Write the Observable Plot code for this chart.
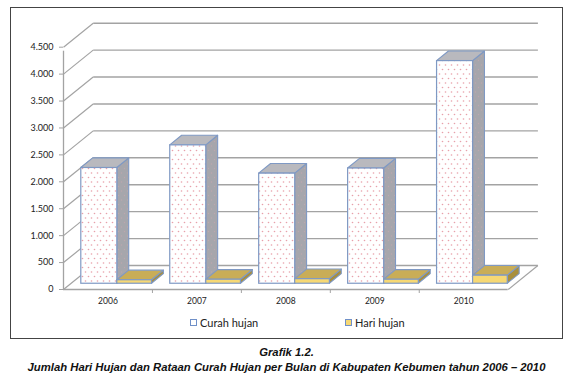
<!DOCTYPE html>
<html><head><meta charset="utf-8">
<script src="https://cdn.jsdelivr.net/npm/d3@7"></script>
<script src="https://cdn.jsdelivr.net/npm/@observablehq/plot@0.6"></script>
<style>
body{margin:0;background:#fff;}
#wrap{position:relative;width:573px;height:381px;overflow:hidden;font-family:Lato,"Open Sans",sans-serif;}
#chart{position:absolute;left:0;top:0;}
#frame{position:absolute;left:10px;top:7px;width:553px;height:332px;box-sizing:border-box;border:1.5px solid #444;}
.leg{position:absolute;top:316px;font-size:11px;color:#222;display:flex;align-items:center;white-space:nowrap;}
.sw{width:7px;height:7px;box-sizing:border-box;border:1.2px solid #7090c8;margin-right:3px;}
#cap{position:absolute;left:0;width:573px;top:345px;text-align:center;font-family:"Liberation Sans",Arial,sans-serif;font-weight:bold;font-style:italic;font-size:11.3px;line-height:14.5px;color:#111;}
</style></head>
<body>
<svg width="0" height="0" style="position:absolute">
  <defs>
    <pattern id="dots" patternUnits="userSpaceOnUse" width="6" height="9">
      <rect width="6" height="9" fill="#ffffff"/>
      <circle cx="1.5" cy="2" r="0.8" fill="#e8a0aa"/>
      <circle cx="4.5" cy="6.5" r="0.8" fill="#e8a0aa"/>
    </pattern>
    <pattern id="sdots" patternUnits="userSpaceOnUse" width="6" height="9">
      <rect width="6" height="9" fill="#a6a6ac"/>
      <circle cx="1.5" cy="2" r="0.7" fill="#bca6ae"/>
      <circle cx="4.5" cy="6.5" r="0.7" fill="#bca6ae"/>
    </pattern>
  </defs>
</svg>
<div id="wrap">
  <div id="chart"></div>
  <div id="frame"></div>
  <div class="leg" style="left:190px"><div class="sw" style="background:#fff"></div><span id="l0"></span></div>
  <div class="leg" style="left:345px"><div class="sw" style="background:#f6d874"></div><span id="l1"></span></div>
  <div id="cap"><div>Grafik 1.2.</div><div>Jumlah Hari Hujan dan Rataan Curah Hujan per Bulan di Kabupaten Kebumen tahun 2006 – 2010</div></div>
</div>
<script>
// ---- data ----
const years = ["2006", "2007", "2008", "2009", "2010"];
const curahHujan = [2150, 2570, 2045, 2140, 4135];
const hariHujan = [65, 75, 85, 75, 150];
const yTicks = [0, 500, 1000, 1500, 2000, 2500, 3000, 3500, 4000, 4500];
const seriesNames = ["Curah hujan", "Hari hujan"];

document.getElementById("l0").textContent = seriesNames[0];
document.getElementById("l1").textContent = seriesNames[1];

// ---- layout ----
const W = 573, H = 312, mL = 63, mR = 65.3, mT = 46.7, mB = 23;
const pxPerX = (W - mL - mR) / years.length;
const pxPerY = (H - mT - mB) / 4500;
const DX = 29.7 / pxPerX;   // depth offset in x units
const DY = 24 / pxPerY;     // depth offset in y units
const f0 = 0.24, f1 = 0.64; // bar depth fraction (front, back)

function barFaces(list, i, v, left, width, id) {
  const x0 = i + left + f0 * DX, x1 = x0 + width;
  const b = f0 * DY, t = v + f0 * DY;
  const ddx = (f1 - f0) * DX, ddy = (f1 - f0) * DY;
  list.front.push({x1: x0, x2: x1, y1: b, y2: t});
  list.side.push({id, x: x1, y1: b, y2: t}, {id, x: x1 + ddx, y1: b + ddy, y2: t + ddy});
  list.top.push({id, y: t, x1: x0, x2: x1}, {id, y: t + ddy, x1: x0 + ddx, x2: x1 + ddx});
}
const curah = {front: [], side: [], top: []};
const hari = {front: [], side: [], top: []};
years.forEach((y, i) => {
  barFaces(curah, i, curahHujan[i], 0.12, 0.405, "c" + i);
  barFaces(hari, i, hariHujan[i], 0.525, 0.39, "h" + i);
});

const fmt = d3.formatLocale({decimal: ",", thousands: ".", grouping: [3], currency: ["", ""]}).format(",");
const grid = "#a3a3a3";
const edge = "#7f99c4";

function faces(set, frontFill, sideFill, topFill) {
  return [
    Plot.area(set.side, {x1: "x", x2: "x", y1: "y1", y2: "y2", z: "id", fill: sideFill, stroke: edge, strokeWidth: 1.1, curve: "linear"}),
    Plot.area(set.top, {x1: "x1", x2: "x2", y1: "y", y2: "y", z: "id", fill: topFill, stroke: edge, strokeWidth: 1.1, curve: "linear"}),
    Plot.rect(set.front, {x1: "x1", x2: "x2", y1: "y1", y2: "y2", fill: frontFill, stroke: edge, strokeWidth: 1.2})
  ];
}

const chart = Plot.plot({
  width: W, height: H,
  marginLeft: mL, marginRight: mR, marginTop: mT, marginBottom: mB,
  style: {fontFamily: "Lato, 'Open Sans', sans-serif", color: "#222", background: "transparent"},
  x: {domain: [0, years.length]},
  y: {domain: [0, 4500]},
  marks: [
    Plot.link(yTicks, {x1: () => DX, x2: () => years.length + DX, y1: d => d + DY, y2: d => d + DY, stroke: grid, strokeWidth: 1.4}),
    Plot.link(yTicks, {x1: () => 0, x2: () => DX, y1: d => d, y2: d => d + DY, stroke: grid, strokeWidth: 1.2}),
    Plot.link([0], {x1: () => years.length, x2: () => years.length + DX, y1: () => 0, y2: () => DY, stroke: grid, strokeWidth: 1.2}),
    Plot.ruleY([0], {x1: 0, x2: years.length, stroke: grid, strokeWidth: 1.3}),
    Plot.ruleX([0], {y1: 0, y2: 4500, stroke: grid, strokeWidth: 1.3, insetBottom: -4}),
    Plot.axisY({ticks: yTicks, tickSize: 4, tickPadding: 6, tickFormat: fmt, label: null, fontSize: 9, stroke: grid}),
    Plot.axisX({ticks: [1, 2, 3, 4], tickSize: 4, tickFormat: () => "", label: null, stroke: grid}),
    Plot.axisX({ticks: years.map((d, i) => i + 0.5), tickSize: 0, tickPadding: 8, tickFormat: d => years[Math.floor(d)], label: null, fontSize: 8.5}),
    ...faces(curah, "url(#dots)", "url(#sdots)", "#b9b9be"),
    ...faces(hari, "#f6d874", "#a88f3e", "#c9ad57")
  ]
});
document.getElementById("chart").appendChild(chart);
</script>
</body></html>
